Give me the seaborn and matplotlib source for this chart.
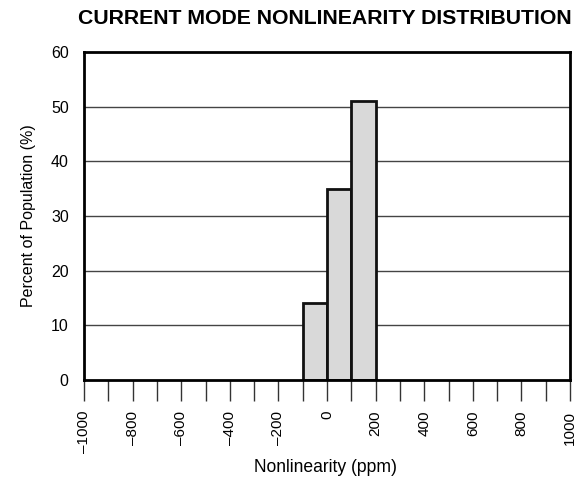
import matplotlib

matplotlib.use("Agg")

import matplotlib.pyplot as plt
import seaborn as sns

# nonlinearity bins (ppm) and percent of population
BIN_EDGES = [-100, 0, 100, 200]
BIN_CENTERS = [-50, 50, 150]
PERCENT = [14, 35, 51]

MAJOR_TICKS = list(range(-1000, 1001, 200))
MINOR_TICKS = list(range(-1000, 1001, 100))
TICK_LABELS = [str(t).replace("-", "\u2013") for t in MAJOR_TICKS]
Y_TICKS = [0, 10, 20, 30, 40, 50, 60]


def fit_text(fig, text, target_px, vertical=False):
    # scale font so the text spans about target_px pixels
    renderer = fig.canvas.get_renderer()
    box = text.get_window_extent(renderer)
    size = box.height if vertical else box.width
    text.set_fontsize(text.get_fontsize() * target_px / size)


def main():
    sns.set_style("white")
    plt.rcParams["font.family"] = ["Liberation Sans", "DejaVu Sans"]
    for key in ["text.color", "axes.labelcolor", "xtick.color", "ytick.color"]:
        plt.rcParams[key] = "black"

    fig = plt.figure(figsize=(5.85, 4.83), dpi=100)
    ax = fig.add_axes([0.1436, 0.2133, 0.8308, 0.679])

    sns.histplot(
        x=BIN_CENTERS, weights=PERCENT, bins=BIN_EDGES, ax=ax,
        color="#d9d9d9", edgecolor="#111111", linewidth=2, alpha=1, zorder=3,
    )

    ax.set_xlim(-1000, 1000)
    ax.set_ylim(0, 60)
    ax.set_xticks(MAJOR_TICKS)
    ax.set_xticklabels(TICK_LABELS, rotation=90, fontsize=11)
    ax.set_xticks(MINOR_TICKS, minor=True)
    ax.set_yticks(Y_TICKS)
    ax.set_yticklabels([str(v) for v in Y_TICKS], fontsize=11.5)

    ax.tick_params(axis="x", which="both", direction="out", length=15,
                   width=1, color="#333333", bottom=True, pad=7)
    ax.tick_params(axis="y", length=0, pad=11)

    for y in Y_TICKS[1:-1]:
        ax.axhline(y, color="#444444", linewidth=1, zorder=1)

    for side in ["left", "right", "top", "bottom"]:
        ax.spines[side].set_visible(True)
        ax.spines[side].set_color("black")
        ax.spines[side].set_linewidth(2)
        ax.spines[side].set_zorder(4)

    ax.set_ylabel("Percent of Population (%)", fontsize=12, labelpad=11)
    fit_text(fig, ax.yaxis.label, 184, vertical=True)

    xlab = fig.text(325 / 585, 1 - 467 / 483, "Nonlinearity (ppm)",
                    ha="center", va="center", fontsize=12)
    fit_text(fig, xlab, 144)

    title = fig.text(325 / 585, 1 - 18 / 483, "CURRENT MODE NONLINEARITY DISTRIBUTION",
                     ha="center", va="center", fontsize=13.5, fontweight="bold")
    fit_text(fig, title, 495)

    fig.savefig("out.png", dpi=100)
    plt.close(fig)


if __name__ == "__main__":
    main()
